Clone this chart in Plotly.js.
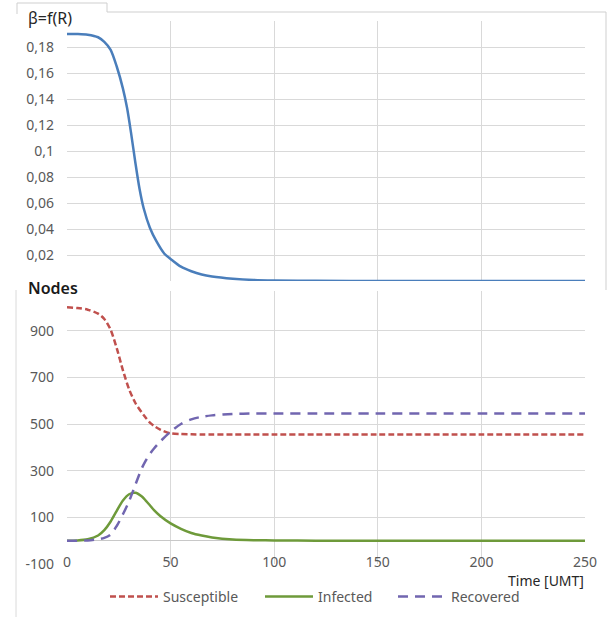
<!DOCTYPE html>
<html><head><meta charset="utf-8">
<script src="https://cdn.plot.ly/plotly-3.0.1.min.js"></script>
<style>html,body{margin:0;padding:0;background:#fff;}#chart{width:608px;height:617px;}</style>
</head><body><div id="chart"></div>
<script>
// beta = f(R) (top panel)
var betaTime = [0,5,10,15,18,21,24,27,29,31,33,35,37,40,43,47,50,55,60,65,70,80,90,100,120,150,200,250];
var betaValue = [0.19,0.19,0.1895,0.1875,0.184,0.178,0.165,0.148,0.133,0.113,0.091,0.071,0.056,0.041,0.031,0.021,0.017,0.011,0.0075,0.005,0.0035,0.0018,0.0008,0.0004,0.0001,0,0,0];

// Nodes (bottom panel)
var nodeTime = [0,5,10,15,18,21,24,27,30,33,36,38,40,42,45,50,55,60,65,70,80,90,100,120,150,200,250];
var susceptible = [1000,997,990,973,950,905,825,730,648,590,550,527,506,492,476,460,457,456,455,455,455,455,455,455,455,455,455];
var infected = [0,1,6,22,45,81,128,172,199,205,190,172,152,131,106,74,51,33,22,14,5,2,1,0,0,0,0];
var recovered = [0,0,1,6,12,26,63,113,170,240,308,343,372,395,425,467,500,520,531,537,543,545,545,545,545,545,545];

var seriesNames = ['Susceptible','Infected','Recovered'];
var timeTicks = [0,50,100,150,200,250];
var timeTickText = ['0','50','100','150','200','250'];
var betaTicks = [0,0.02,0.04,0.06,0.08,0.1,0.12,0.14,0.16,0.18,0.2];
var betaTickText = ['','0,02','0,04','0,06','0,08','0,1','0,12','0,14','0,16','0,18',''];
var nodeTicks = [-100,100,300,500,700,900];
var nodeTickText = ['-100','100','300','500','700','900'];

var W = 608, H = 617, L = 67, R = 23, T = 21, B = 53;
var pw = W - L - R, ph = H - T - B;
function px(x){ return (x - L) / pw; }
function py(y){ return (H - B - y) / ph; }

var FAM = 'Noto Sans, Open Sans, sans-serif';
var tickFont = {family: FAM, size: 14, color: '#595959'};
var grid = '#D9D9D9';

var traces = [
  {x: betaTime, y: betaValue, xaxis: 'x', yaxis: 'y', mode: 'lines', showlegend: false,
   line: {color: '#4A7EBB', width: 2.5, shape: 'spline', smoothing: 0.8}, hoverinfo: 'skip'},
  {x: nodeTime, y: susceptible, xaxis: 'x2', yaxis: 'y2', mode: 'lines', name: seriesNames[0], legend: 'legend',
   line: {color: '#C0504D', width: 2.5, dash: '6px,3px', shape: 'spline', smoothing: 0.8}},
  {x: nodeTime, y: infected, xaxis: 'x2', yaxis: 'y2', mode: 'lines', name: seriesNames[1], legend: 'legend2',
   line: {color: '#6E9A3A', width: 2.5, shape: 'spline', smoothing: 0.8}},
  {x: nodeTime, y: recovered, xaxis: 'x2', yaxis: 'y2', mode: 'lines', name: seriesNames[2], legend: 'legend3',
   line: {color: '#7166B0', width: 2.5, dash: '10px,7px', shape: 'spline', smoothing: 0.8}}
];

var legendBase = {orientation: 'h', yanchor: 'middle', xanchor: 'left', y: py(597),
  font: {family: FAM, size: 14, color: '#595959'},
  bgcolor: 'rgba(0,0,0,0)', borderwidth: 0, itemwidth: 48};

var layout = {
  width: W, height: H,
  margin: {l: L, r: R, t: T, b: B, pad: 0, autoexpand: false},
  paper_bgcolor: '#fff', plot_bgcolor: '#fff',
  separators: ',.',
  showlegend: true,
  font: tickFont,
  xaxis: {domain: [0,1], anchor: 'y', range: [0,250], tickvals: timeTicks, ticktext: timeTickText,
    showticklabels: false, showgrid: true, gridcolor: grid, gridwidth: 1, zeroline: false, showline: false, ticks: ''},
  yaxis: {domain: [py(281), 1], anchor: 'x', range: [0,0.2], tickvals: betaTicks, ticktext: betaTickText,
    showgrid: true, gridcolor: grid, gridwidth: 1, zeroline: false, showline: false, ticks: '',
    ticklabelstandoff: 12, tickfont: tickFont},
  xaxis2: {domain: [0,1], anchor: 'y2', range: [0,250], tickvals: timeTicks, ticktext: timeTickText,
    showgrid: true, gridcolor: grid, gridwidth: 1, zeroline: false, showline: false, ticks: '',
    ticklabelstandoff: -12, tickfont: tickFont},
  yaxis2: {domain: [0, py(291)], anchor: 'x2', range: [-100,1070], tickvals: nodeTicks, ticktext: nodeTickText,
    showgrid: true, gridcolor: grid, gridwidth: 1, zeroline: true, zerolinecolor: '#C8C8C8', zerolinewidth: 1,
    showline: false, ticks: '', ticklabelstandoff: 12, tickfont: tickFont},
  legend: Object.assign({}, legendBase, {x: px(105)}),
  legend2: Object.assign({}, legendBase, {x: px(260)}),
  legend3: Object.assign({}, legendBase, {x: px(393)}),
  shapes: [
    {type: 'rect', xref: 'paper', yref: 'paper', x0: px(17), x1: px(107), y0: py(32), y1: py(3), fillcolor: '#fff', line: {width: 0}, layer: 'above'},
    {type: 'rect', xref: 'paper', yref: 'paper', x0: px(17), x1: px(91), y0: py(302), y1: py(272), fillcolor: '#fff', line: {width: 0}, layer: 'above'},
    {type: 'path', xref: 'paper', yref: 'paper', layer: 'above',
     path: 'M' + px(17) + ',' + py(14) + 'L' + px(17) + ',' + py(3) + 'L' + px(107) + ',' + py(3) + 'L' + px(107) + ',' + py(12) + 'L' + px(606) + ',' + py(12) + 'L' + px(606) + ',' + py(290),
     line: {color: '#CFCFCF', width: 1}},
    {type: 'line', xref: 'paper', yref: 'paper', layer: 'above', x0: px(16), x1: px(16), y0: py(290), y1: py(617),
     line: {color: '#DADADA', width: 1}}
  ],
  annotations: [
    {text: 'β=f(R)', xref: 'paper', yref: 'paper', x: px(26), y: py(18), xanchor: 'left', yanchor: 'middle', showarrow: false,
     font: {family: FAM, size: 16, color: '#262626'}},
    {text: 'Nodes', xref: 'paper', yref: 'paper', x: px(26), y: py(288), xanchor: 'left', yanchor: 'middle', showarrow: false,
     font: {family: FAM, size: 16, weight: 600, color: '#1A1A1A'}},
    {text: 'Time [UMT]', xref: 'paper', yref: 'paper', x: px(586), y: py(580), xanchor: 'right', yanchor: 'middle', showarrow: false,
     font: {family: FAM, size: 14, color: '#262626'}}
  ]
};

Plotly.newPlot('chart', traces, layout, {displayModeBar: false, staticPlot: true});
</script></body></html>
